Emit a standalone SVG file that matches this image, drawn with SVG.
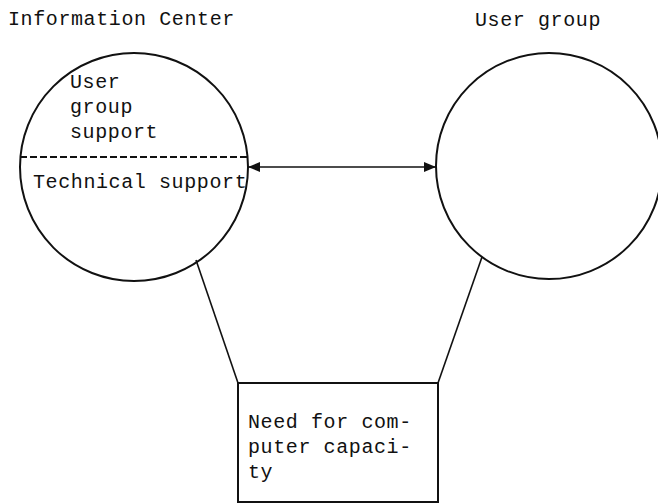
<svg xmlns="http://www.w3.org/2000/svg" width="658" height="504" viewBox="0 0 658 504">
<style>
text{font-family:"Liberation Mono","Courier New",monospace;font-size:20px;letter-spacing:0.6px;fill:#111}
.node{fill:none;stroke:#111;stroke-width:2}
.conn{stroke:#111;stroke-width:1.6;fill:none}
</style>
<defs>
<marker id="ah" viewBox="0 0 12 10" refX="12" refY="5" markerWidth="12" markerHeight="10" markerUnits="userSpaceOnUse" orient="auto-start-reverse">
<path d="M0,0 L12,5 L0,10 z" fill="#111"/>
</marker>
</defs>
<rect width="658" height="504" fill="#fff"/>
<text x="8" y="25">Information Center</text>
<text x="475" y="26">User group</text>
<g id="information-center">
<circle class="node" cx="134" cy="167" r="114"/>
<line x1="20" y1="157" x2="248" y2="157" stroke="#111" stroke-width="2" stroke-dasharray="7 3"/>
<text x="70" y="88">User</text>
<text x="70" y="113">group</text>
<text x="70" y="138">support</text>
<text x="33" y="188">Technical support</text>
</g>
<g id="user-group">
<circle class="node" cx="549" cy="166" r="113"/>
</g>
<g id="need-box">
<rect class="node" x="238" y="383" width="200" height="119"/>
<text x="248" y="428">Need for com-</text>
<text x="248" y="453">puter capaci-</text>
<text x="248" y="478">ty</text>
</g>
<g id="connectors">
<line class="conn" x1="248" y1="167" x2="436" y2="167" marker-start="url(#ah)" marker-end="url(#ah)"/>
<line class="conn" x1="196" y1="260" x2="238" y2="383"/>
<line class="conn" x1="482" y1="257" x2="438" y2="383"/>
</g>
</svg>
